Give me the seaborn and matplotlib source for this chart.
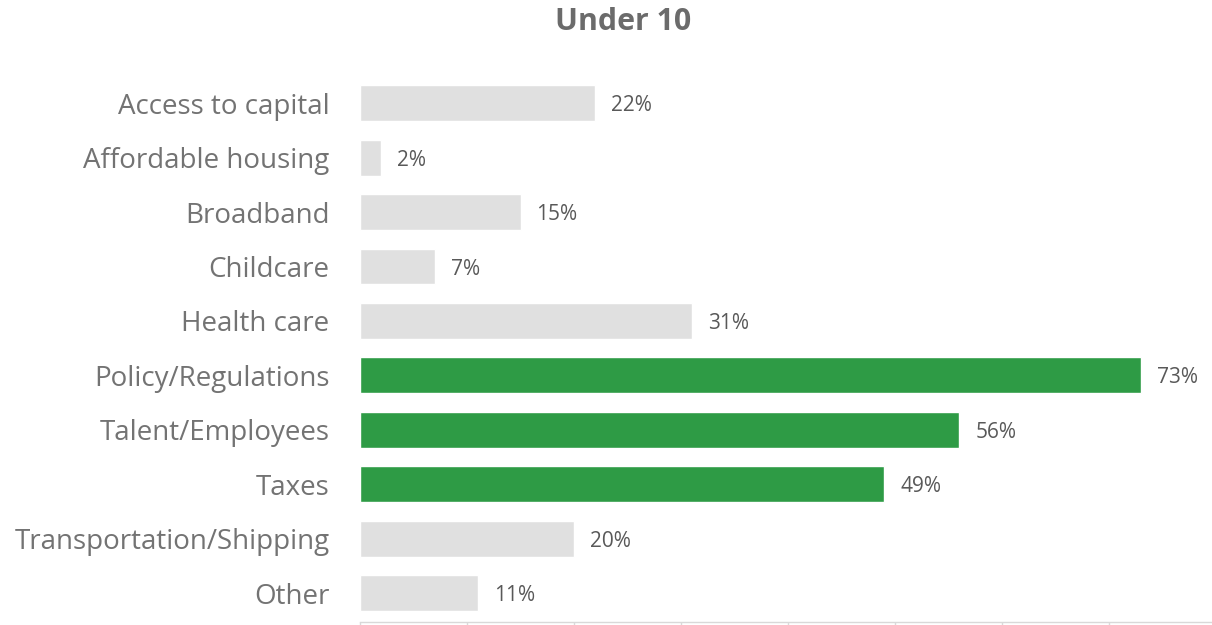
import matplotlib
matplotlib.use("Agg")
import matplotlib.pyplot as plt
import seaborn as sns
import pandas as pd

categories = ["Access to capital", "Affordable housing", "Broadband", "Childcare",
              "Health care", "Policy/Regulations", "Talent/Employees", "Taxes",
              "Transportation/Shipping", "Other"]
shares = [0.22, 0.02, 0.15, 0.07, 0.31, 0.73, 0.56, 0.49, 0.20, 0.11]
highlighted = ["Policy/Regulations", "Talent/Employees", "Taxes"]
title = "Under 10"

GREEN = "#2E9B45"
GREY = "#E0E0E0"
TEXT = "#737373"

sns.set_theme(style="white")
plt.rcParams["font.family"] = ["Open Sans", "DejaVu Sans"]

df = pd.DataFrame({"category": categories, "share": shares})
df["group"] = ["top" if c in highlighted else "rest" for c in categories]

fig = plt.figure(figsize=(12.12, 6.25), dpi=100)
ax = fig.add_axes([360 / 1212, 3 / 625, (1212 - 360) / 1212, (622 - 76) / 625])

sns.barplot(data=df, y="category", x="share", hue="group",
            palette={"top": GREEN, "rest": GREY}, dodge=False, saturation=1,
            width=0.66, legend=False, ax=ax, order=categories)

for cont in ax.containers:
    texts = ax.bar_label(cont, labels=[f"{v*100:.0f}%" if v == v else "" for v in cont.datavalues],
                         padding=11.5, fontsize=15, color="#595959")
    for t in texts:
        t.set_verticalalignment("center_baseline")

ax.set_xlim(0, 0.796)
ax.set_ylim(9.53, -0.5)
ax.set_xticks([i / 10 for i in range(8)])
ax.set_xticklabels([])
ax.tick_params(axis="x", direction="out", length=6, color="#D9D9D9", width=1, bottom=True)
ax.tick_params(axis="y", length=0, pad=22, labelsize=20, labelcolor=TEXT)
ax.set_xlabel("")
ax.set_ylabel("")
for side in ["top", "right", "left"]:
    ax.spines[side].set_visible(False)
ax.spines["bottom"].set_color("#D9D9D9")
ax.spines["bottom"].set_linewidth(1)

fig.text(623 / 1212, 1 - 22 / 625, title, ha="center", va="center",
         fontsize=21.8, fontweight="bold", color="#6B6B6B")

fig.savefig("out.png", dpi=100)
